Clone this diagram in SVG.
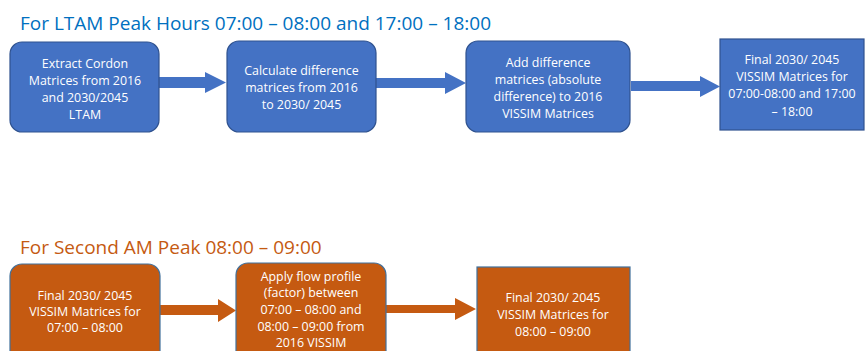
<svg xmlns="http://www.w3.org/2000/svg" width="865" height="351" viewBox="0 0 865 351">
<style>
.title{font-family:"Open Sans","Liberation Sans",sans-serif;font-size:19px}
.t1{fill:#0070C0}
.t2{fill:#C55A11}
.blue{fill:#4472C4;stroke:#2F528F;stroke-width:1.2}
.orange{fill:#C55A11;stroke:#41719C;stroke-width:1.2}
.lbl{font-family:"Open Sans","Liberation Sans",sans-serif;font-size:12.4px;fill:#FFFFFF;text-anchor:middle}
.ab{fill:#4472C4}
.ao{fill:#C55A11}
</style>
<rect width="865" height="351" fill="#FFFFFF"/>
<text class="title t1" x="20" y="30">For LTAM Peak Hours 07:00 – 08:00 and 17:00 – 18:00</text>
<text class="title t2" x="20" y="254">For Second AM Peak 08:00 – 09:00</text>
<g id="connectors">
<polygon class="ab" points="159,77 205,77 205,72 226,82.5 205,93 205,88 159,88"/>
<polygon class="ab" points="376,78 445,78 445,72 466,83 445,94 445,88 376,88"/>
<polygon class="ab" points="631,81 700,81 700,76 720,86.5 700,97 700,91 631,91"/>
<polygon class="ao" points="160,305 218,305 218,299 236,310.5 218,322 218,315 160,315"/>
<polygon class="ao" points="386,305 455,305 455,298 476,309 455,320 455,313 386,313"/>
</g>
<g id="node1">
<rect class="blue" x="10" y="42" width="149" height="90" rx="12"/>
<text class="lbl"><tspan x="85" y="68">Extract Cordon</tspan><tspan x="85" y="85">Matrices from 2016</tspan><tspan x="85" y="102">and 2030/2045</tspan><tspan x="85" y="119">LTAM</tspan></text>
</g>
<g id="node2">
<rect class="blue" x="227" y="41" width="149" height="91" rx="12"/>
<text class="lbl"><tspan x="301.5" y="75">Calculate difference</tspan><tspan x="301.5" y="92">matrices from 2016</tspan><tspan x="301.5" y="109">to 2030/ 2045</tspan></text>
</g>
<g id="node3">
<rect class="blue" x="466" y="41" width="164" height="91" rx="12"/>
<text class="lbl"><tspan x="548" y="67">Add difference</tspan><tspan x="548" y="84">matrices (absolute</tspan><tspan x="548" y="101">difference) to 2016</tspan><tspan x="548" y="118">VISSIM Matrices</tspan></text>
</g>
<g id="node4">
<rect class="blue" x="720" y="39" width="144" height="91"/>
<text class="lbl"><tspan x="792" y="64">Final 2030/ 2045</tspan><tspan x="792" y="81">VISSIM Matrices for</tspan><tspan x="792" y="98">07:00-08:00 and 17:00</tspan><tspan x="792" y="116">– 18:00</tspan></text>
</g>
<g id="node5">
<rect class="orange" x="10" y="264" width="150" height="110" rx="12"/>
<text class="lbl"><tspan x="85" y="300">Final 2030/ 2045</tspan><tspan x="85" y="316">VISSIM Matrices for</tspan><tspan x="85" y="332">07:00 – 08:00</tspan></text>
</g>
<g id="node6">
<rect class="orange" x="236" y="263" width="150" height="110" rx="12"/>
<text class="lbl"><tspan x="311" y="281">Apply flow profile</tspan><tspan x="311" y="297">(factor) between</tspan><tspan x="311" y="314">07:00 – 08:00 and</tspan><tspan x="311" y="331">08:00 – 09:00 from</tspan><tspan x="311" y="347">2016 VISSIM</tspan></text>
</g>
<g id="node7">
<rect class="orange" x="477" y="267" width="153" height="110"/>
<text class="lbl"><tspan x="553" y="302">Final 2030/ 2045</tspan><tspan x="553" y="319">VISSIM Matrices for</tspan><tspan x="553" y="336">08:00 – 09:00</tspan></text>
</g>
</svg>
